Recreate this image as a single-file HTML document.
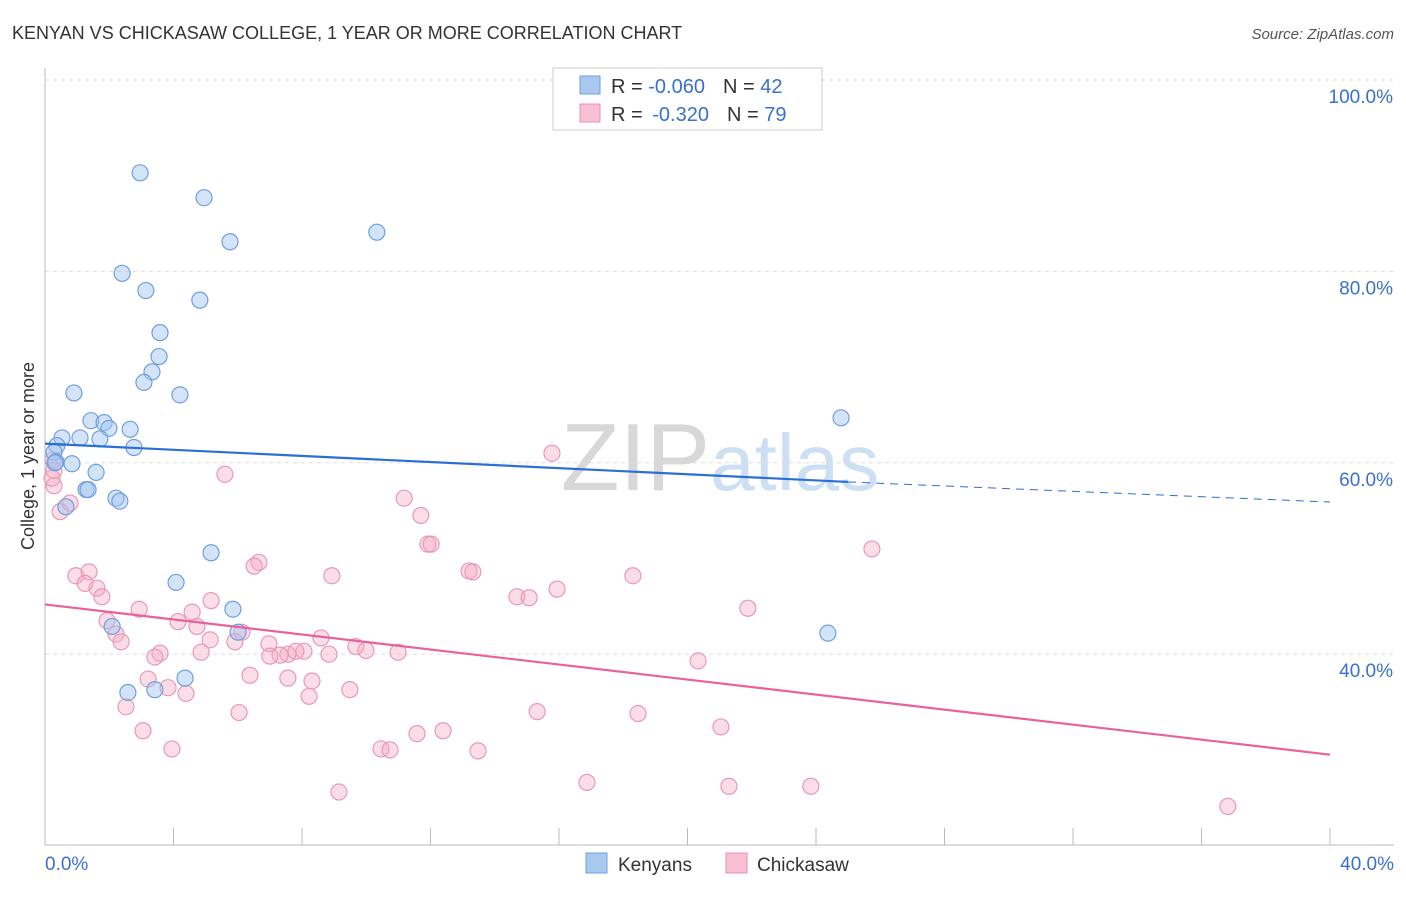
<!DOCTYPE html>
<html><head><meta charset="utf-8"><style>
body{margin:0;background:#fff;font-family:"Liberation Sans",sans-serif}
svg text{font-family:"Liberation Sans",sans-serif}
</style></head><body>
<svg id="c" width="1406" height="892">
<text x="12" y="39" font-size="18" fill="#333">KENYAN VS CHICKASAW COLLEGE, 1 YEAR OR MORE CORRELATION CHART</text>
<text x="1394" y="39" font-size="15" fill="#555" text-anchor="end" font-style="italic">Source: ZipAtlas.com</text>
<text x="720" y="490" font-size="96" fill="#d8d8d8" text-anchor="middle" font-family="Liberation Serif">ZIP<tspan fill="#cddff3" font-family="Liberation Sans" font-size="80">atlas</tspan></text>
<g id="grid"></g><g id="marks"></g>
<text transform="translate(34,456) rotate(-90)" font-size="18" fill="#333" text-anchor="middle">College, 1 year or more</text>
<g>
<rect x="553" y="68" width="269" height="62" fill="#fff" stroke="#ccc"/>
<rect x="580" y="76" width="20" height="18" fill="#a8c8f0" stroke="#6fa0e0"/>
<rect x="580" y="104" width="20" height="18" fill="#f8c0d2" stroke="#e890b0"/>
<text x="611" y="93" font-size="20" fill="#333">R = <tspan fill="#3a70d0">-0.060</tspan><tspan dx="18">N = </tspan><tspan fill="#3a70d0">42</tspan></text>
<text x="611" y="121" font-size="20" fill="#333">R = <tspan dx="4" fill="#3a70d0">-0.320</tspan><tspan dx="18">N = </tspan><tspan fill="#3a70d0">79</tspan></text>
</g>
<g>
<rect x="586" y="853" width="21" height="20" fill="#a8c8f0" stroke="#6fa0e0"/>
<text x="618" y="871" font-size="19" fill="#333">Kenyans</text>
<rect x="726" y="853" width="21" height="20" fill="#f8c0d2" stroke="#e890b0"/>
<text x="757" y="871" font-size="19" fill="#333">Chickasaw</text>
</g>
</svg>
<script>
const yTicks=[100,80,60,40];
const xTickLabels=["0.0%","40.0%"];
const blueX=[2.96,4.95,5.76,10.33,2.40,3.14,4.82,3.58,3.55,3.33,3.08,4.20,0.90,1.43,1.84,1.99,2.65,0.53,1.09,1.71,2.77,0.37,0.28,0.34,0.84,1.59,1.28,1.34,2.21,2.33,0.65,5.17,4.08,5.85,6.01,2.09,2.58,3.42,4.36,24.37,24.78,0.31];
const blueY=[90.3,87.7,83.1,84.1,79.8,78.0,77.0,73.6,71.1,69.5,68.4,67.1,67.3,64.4,64.2,63.6,63.5,62.6,62.6,62.5,61.6,61.8,61.1,60.1,59.9,59.0,57.2,57.2,56.3,56.0,55.4,50.6,47.5,44.7,42.3,42.9,36.0,36.3,37.5,42.2,64.7,60.0];
const pinkX=[15.78,5.60,11.18,11.70,11.92,12.02,25.74,6.66,6.51,8.93,13.20,13.32,18.30,0.96,1.37,1.25,1.62,1.77,15.94,14.69,15.07,5.17,2.93,4.58,21.88,4.14,4.73,1.93,2.21,2.37,6.13,5.14,5.91,6.97,8.59,9.68,9.99,10.99,8.06,7.56,7.32,7.00,7.81,8.84,4.86,3.58,3.42,20.33,6.38,7.56,8.31,3.21,3.83,4.39,9.49,8.22,2.52,6.04,15.32,18.46,3.05,21.04,11.58,12.39,3.95,10.46,10.74,13.48,16.87,21.29,23.84,9.15,36.82,0.28,0.22,0.47,0.78,0.25,0.28];
const pinkY=[61.0,58.8,56.3,54.5,51.5,51.5,51.0,49.6,49.2,48.2,48.7,48.6,48.2,48.2,48.6,47.4,46.9,46.0,46.8,46.0,45.9,45.6,44.7,44.4,44.8,43.4,42.9,43.5,42.1,41.3,42.3,41.5,41.3,41.1,41.7,40.8,40.4,40.2,40.3,40.0,39.9,39.8,40.3,40.0,40.2,40.1,39.7,39.3,37.8,37.5,37.2,37.4,36.5,35.9,36.3,35.6,34.5,33.9,34.0,33.8,32.0,32.4,31.7,32.0,30.1,30.1,30.0,29.9,26.6,26.2,26.2,25.6,24.1,57.6,58.4,54.9,55.8,60.3,59.2];
const blueTrend=[62.0,58.0,55.9];
const pinkTrend=[45.2,29.5];
const X=v=>45+v*32.125, Y=v=>80+(100-v)*9.57;
const NS="http://www.w3.org/2000/svg";
function mk(t,a,p){const e=document.createElementNS(NS,t);for(const k in a)e.setAttribute(k,a[k]);p.appendChild(e);return e;}
const g=document.getElementById('grid'), m=document.getElementById('marks');
mk('line',{x1:45,x2:1394,y1:80,y2:80,stroke:'#ddd','stroke-dasharray':'4 4'},g);
yTicks.forEach(t=>{
 const l=mk('line',{x1:45,x2:1394,y1:Y(t),y2:Y(t),stroke:'#ddd','stroke-dasharray':'4 4'},g);
 
 
 const tx=mk('text',{x:1393,y:Y(t)+23,'font-size':19,fill:'#3a70d0','text-anchor':'end'},g);
 tx.textContent=t.toFixed(1)+'%';
 
 
});
mk('line',{x1:45,x2:45,y1:68,y2:845,stroke:'#bbb'},g);
mk('line',{x1:45,x2:1394,y1:845,y2:845,stroke:'#bbb'},g);
for(let i=0;i<=10;i++){mk('line',{x1:X(i*4),x2:X(i*4),y1:828,y2:845,stroke:'#bbb'},g);}
const l0=mk('text',{x:45,y:870,'font-size':19,fill:'#3a70d0'},g);l0.textContent=xTickLabels[0];


const l1=mk('text',{x:1394,y:870,'font-size':19,fill:'#3a70d0','text-anchor':'end'},g);l1.textContent=xTickLabels[1];


pinkX.forEach((x,i)=>{const c=mk('circle',{cx:X(x),cy:Y(pinkY[i]),r:8,fill:'rgba(245,170,195,0.4)',stroke:'#e89ab5','stroke-width':1.2},m);
 
 });
blueX.forEach((x,i)=>{const c=mk('circle',{cx:X(x),cy:Y(blueY[i]),r:8,fill:'rgba(160,195,240,0.45)',stroke:'#6f9fdf','stroke-width':1.2},m);
 
 });
const bt=mk('line',{x1:X(0),y1:Y(blueTrend[0]),x2:X(25),y2:Y(blueTrend[1]),stroke:'#2a6fd6','stroke-width':2.2},m);


const bd=mk('line',{x1:X(25),y1:Y(blueTrend[1]),x2:X(40),y2:Y(blueTrend[2]),stroke:'#2a6fd6','stroke-width':1,'stroke-dasharray':'8 6'},m);


const pt=mk('line',{x1:X(0),y1:Y(pinkTrend[0]),x2:X(40),y2:Y(pinkTrend[1]),stroke:'#e8639a','stroke-width':2.2},m);


</script>
</body></html>
